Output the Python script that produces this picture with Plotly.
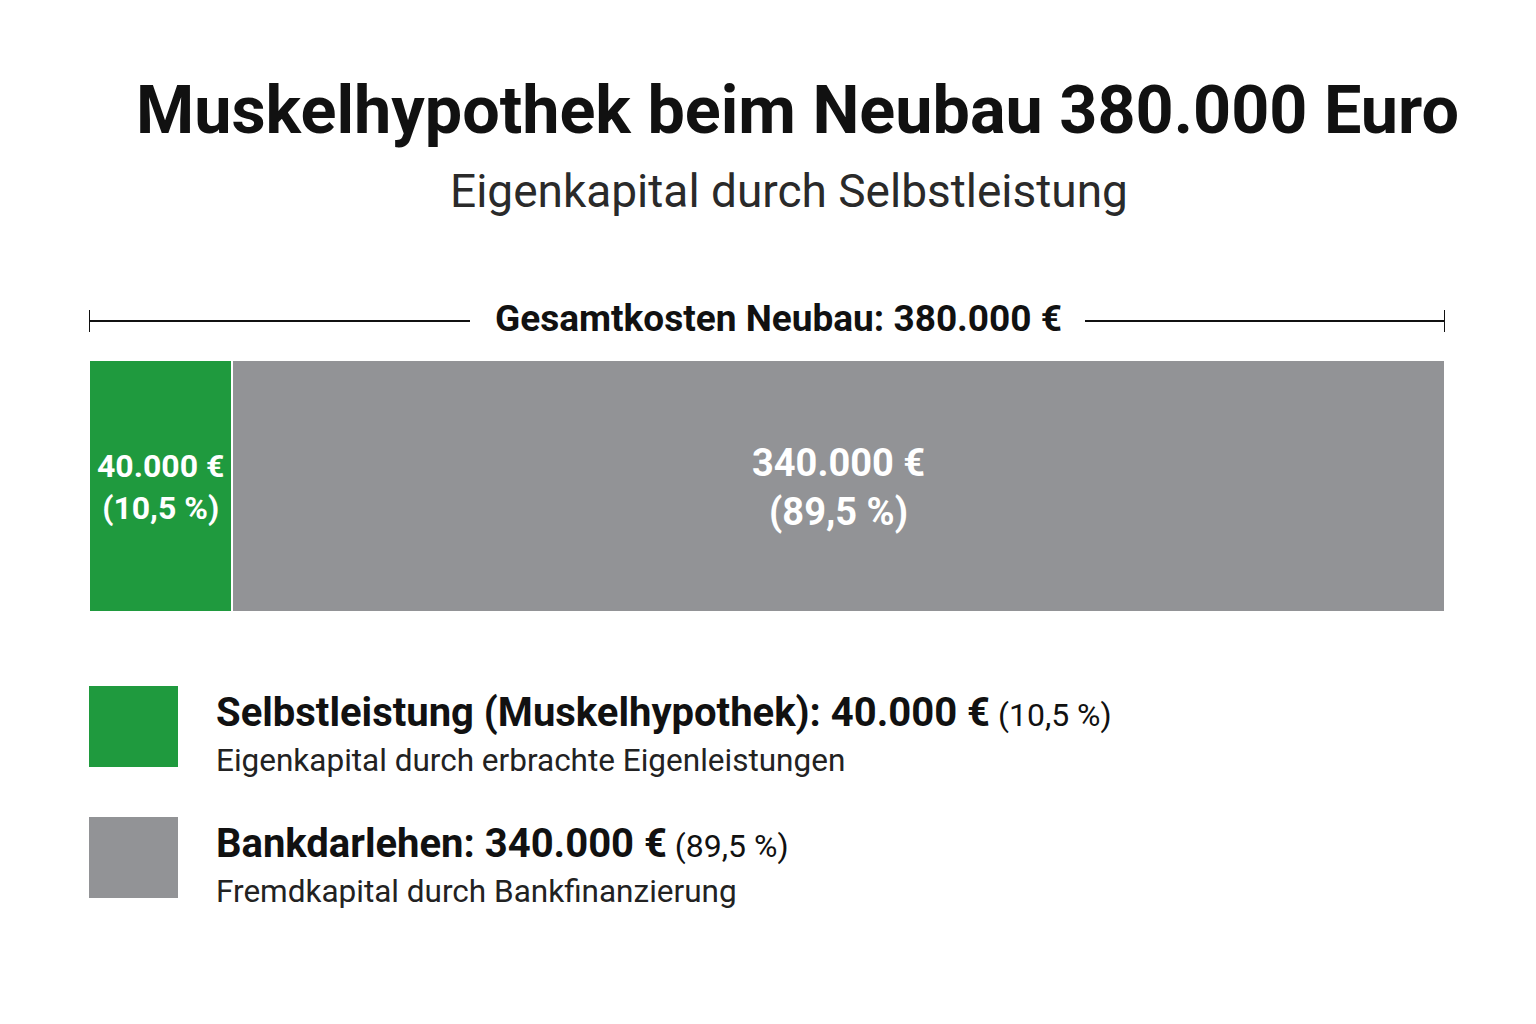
import plotly.graph_objects as go

# ---- data ----
categories = ["Selbstleistung (Muskelhypothek)", "Bankdarlehen"]
values = [40000, 340000]
shares = [10.5, 89.5]
descriptions = ["Eigenkapital durch erbrachte Eigenleistungen", "Fremdkapital durch Bankfinanzierung"]
colors = ["#1f9a3e", "#929396"]
title = "Muskelhypothek beim Neubau 380.000 Euro"
subtitle = "Eigenkapital durch Selbstleistung"
total_label = "Gesamtkosten Neubau"

total = sum(values)

def eur(v):
    return f"{v:,}".replace(",", ".") + " €"

def pct(p):
    return f"{p:.1f}".replace(".", ",") + " %"

W, H = 1536, 1024
L, R, T, B = 89, 1445, 360, 612  # plot area in pixels

def px(x):
    return (x - L) / (R - L)

def py(y):
    return (B - y) / (B - T)

FONT = "Roboto"

fig = go.Figure()
for cat, v, c in zip(categories, values, colors):
    fig.add_trace(go.Bar(
        y=["Neubau"], x=[v], orientation="h", name=cat,
        marker=dict(color=c, line=dict(color="white", width=2)),
        hoverinfo="skip", showlegend=False,
    ))

ann = []
shapes = []

# bar labels
cum = 0
for v, p, fs in zip(values, shares, [32, 38]):
    mid = cum + v / 2
    cum += v
    ann.append(dict(x=mid, y=py(487), xref="x", yref="paper", showarrow=False,
                    text=f"<b>{eur(v)}</b><br><b>({pct(p)})</b>",
                    font=dict(family=FONT, size=fs, color="white"),
                    align="center", xanchor="center", yanchor="middle"))

# title & subtitle
ann.append(dict(x=px(134), y=py(110), xref="paper", yref="paper", showarrow=False,
                text=f"<b>{title}</b>", font=dict(family=FONT, size=66.5, color="#111111"),
                xanchor="left", yanchor="middle"))
ann.append(dict(x=px(448), y=py(191), xref="paper", yref="paper", showarrow=False,
                text=subtitle, font=dict(family=FONT, size=46, color="#2a2a2a"),
                xanchor="left", yanchor="middle"))

# total bracket (two line segments with a gap for the label, end ticks)
for x0, x1 in [(0, px(470)), (px(1085), 1)]:
    shapes.append(dict(type="line", xref="paper", yref="paper", x0=x0, x1=x1,
                       y0=py(321), y1=py(321), line=dict(color="#111111", width=2)))
for xv in [0, total]:
    shapes.append(dict(type="line", xref="x", yref="paper", x0=xv, x1=xv,
                       y0=py(310), y1=py(332), line=dict(color="#111111", width=2)))
ann.append(dict(x=px(778), y=py(318), xref="paper", yref="paper", showarrow=False,
                text=f"<b>{total_label}: {eur(total)}</b>",
                font=dict(family=FONT, size=37, color="#111111"),
                xanchor="center", yanchor="middle"))

# legend
box_tops = [686, 817]
for i, (cat, v, p, d, c) in enumerate(zip(categories, values, shares, descriptions, colors)):
    top = box_tops[i]
    shapes.append(dict(type="rect", xref="paper", yref="paper",
                       x0=px(89), x1=px(178), y0=py(top), y1=py(top + 81),
                       fillcolor=c, line=dict(width=0)))
    ann.append(dict(x=px(214), y=py(top + 26), xref="paper", yref="paper", showarrow=False,
                    text=f"<b>{cat}: {eur(v)}</b><span style='font-size:32px'> ({pct(p)})</span>",
                    font=dict(family=FONT, size=40, color="#111111"),
                    xanchor="left", yanchor="middle", align="left"))
    ann.append(dict(x=px(214), y=py(top + 74), xref="paper", yref="paper", showarrow=False,
                    text=d, font=dict(family=FONT, size=31.5, color="#222222"),
                    xanchor="left", yanchor="middle", align="left"))

fig.update_layout(
    width=W, height=H,
    margin=dict(l=L, r=W - R, t=T, b=H - B, pad=0),
    barmode="stack", bargap=0,
    paper_bgcolor="white", plot_bgcolor="white",
    xaxis=dict(range=[0, total], visible=False, fixedrange=True),
    yaxis=dict(range=[-0.5, 0.5], visible=False, fixedrange=True),
    annotations=ann, shapes=shapes,
    showlegend=False,
)

fig.write_html("out.html", config=dict(displayModeBar=False))
